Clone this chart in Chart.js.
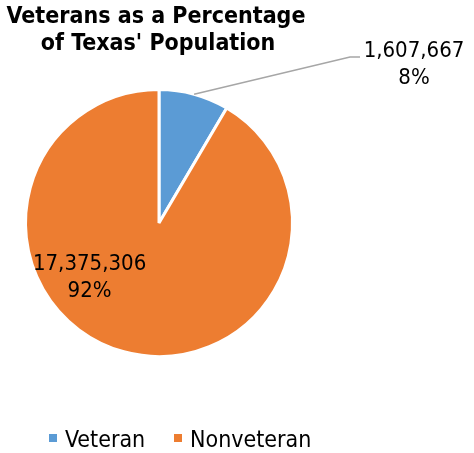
<!DOCTYPE html>
<html>
<head>
<meta charset="utf-8">
<title>Veterans as a Percentage of Texas' Population</title>
<script src="https://cdn.jsdelivr.net/npm/chart.js@4.4.1/dist/chart.umd.min.js"></script>
<style>
  html, body { margin: 0; padding: 0; background: #fff; }
  #wrap { width: 474px; height: 453px; }
</style>
</head>
<body>
<div id="wrap"><canvas id="pieVeterans" width="474" height="453"></canvas></div>
<script>
const categories = ['Veteran', 'Nonveteran'];
const population = [1607667, 17375306];
const sliceColors = ['#5B9BD5', '#ED7D31'];
const titleLines = ['Veterans as a Percentage', "of Texas' Population"];

const FONT = "'DejaVu Sans Condensed', 'DejaVu Sans', sans-serif";

// title, value labels (one with a leader line) and legend, drawn on top of the pie
const decorPlugin = {
    id: 'decor',
    afterDraw(chart) {
        const ctx = chart.ctx;
        const arcs = chart.getDatasetMeta(0).data;
        const total = population.reduce((a, b) => a + b, 0);

        ctx.save();
        ctx.fillStyle = '#000';
        ctx.textAlign = 'center';
        ctx.textBaseline = 'alphabetic';

        // title
        ctx.font = 'bold 23px ' + FONT;
        ctx.fillText(titleLines[0], 156, 23);
        ctx.fillText(titleLines[1], 158, 50);

        // label for the small slice, pulled outside with a leader line
        const a0 = arcs[0];
        const mid0 = (a0.startAngle + a0.endAngle) / 2;
        const sx = a0.x + Math.cos(mid0) * a0.outerRadius;
        const sy = a0.y + Math.sin(mid0) * a0.outerRadius;
        ctx.strokeStyle = '#A6A6A6';
        ctx.lineWidth = 1.5;
        ctx.beginPath();
        ctx.moveTo(sx, sy);
        ctx.lineTo(350, 57);
        ctx.lineTo(360, 57);
        ctx.stroke();

        ctx.font = '22px ' + FONT;
        const pct = v => Math.round(v / total * 100) + '%';
        ctx.fillText(population[0].toLocaleString('en-US'), 414, 57);
        ctx.fillText(pct(population[0]), 414, 84);

        // label inside the large slice
        const a1 = arcs[1];
        const lx = a1.x - a1.outerRadius * 0.52;
        const ly = a1.y + a1.outerRadius * 0.35;
        ctx.fillText(population[1].toLocaleString('en-US'), lx, ly);
        ctx.fillText(pct(population[1]), lx, ly + 27.5);

        // legend
        ctx.font = '23px ' + FONT;
        ctx.textAlign = 'left';
        const legendX = [49, 174];
        categories.forEach((c, i) => {
            ctx.fillStyle = sliceColors[i];
            ctx.fillRect(legendX[i], 434, 8, 8);
            ctx.fillStyle = '#000';
            ctx.fillText(c, legendX[i] + 16, 446.5);
        });
        ctx.restore();
    }
};

const ctxPie = document.getElementById('pieVeterans').getContext('2d');
new Chart(ctxPie, {
    type: 'pie',
    data: {
        labels: categories,
        datasets: [{
            data: population,
            backgroundColor: sliceColors,
            borderColor: '#FFFFFF',
            borderWidth: 3
        }]
    },
    options: {
        responsive: false,
        maintainAspectRatio: false,
        animation: false,
        layout: {
            padding: { left: 24, top: 88, right: 180, bottom: 95 }
        },
        plugins: {
            legend: { display: false },
            title: { display: false },
            tooltip: { enabled: false }
        }
    },
    plugins: [decorPlugin]
});
</script>
</body>
</html>
